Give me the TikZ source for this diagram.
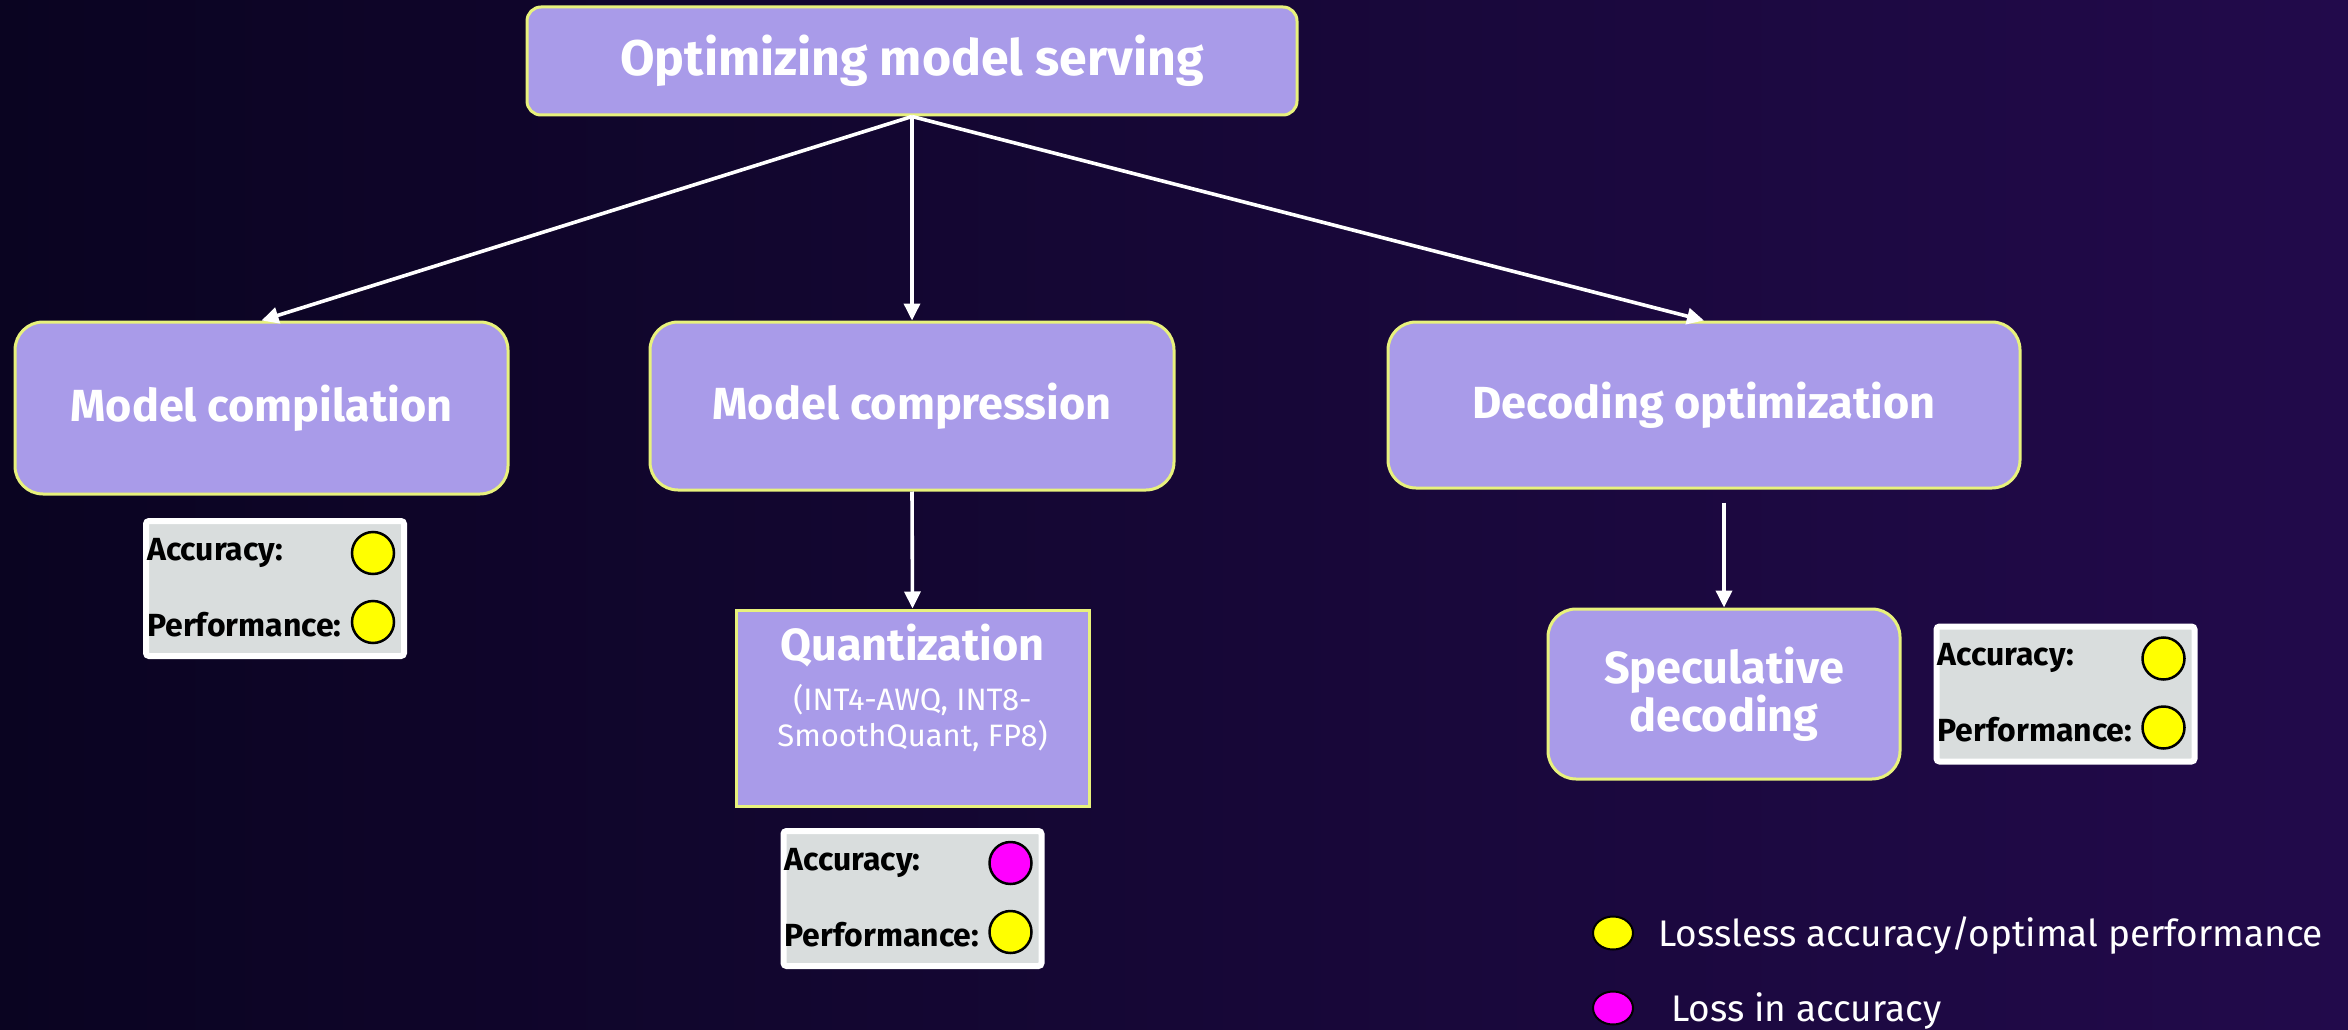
\documentclass[tikz,border=0pt]{standalone}
\usepackage{fontspec}
\setmainfont{Fira Sans}
\usetikzlibrary{arrows.meta,calc,shapes.geometric}

\definecolor{bgleft}{HTML}{0A0421}
\definecolor{bgmid}{HTML}{10062E}
\definecolor{bgright}{HTML}{220A4B}
\definecolor{boxfill}{HTML}{A99BE9}
\definecolor{boxedge}{HTML}{E8F27C}
\definecolor{panelgray}{HTML}{D9DDDD}
\definecolor{dotyellow}{HTML}{FFFF00}
\definecolor{dotmagenta}{HTML}{FF00FF}

% score card: name, centre, colour of the accuracy dot
\newcommand{\scorecard}[3]{%
  \node[panel] (#1) at (#2) {};
  \node[score, anchor=base west] (#1-acc) at ($(#1.north west)+(4,42)$) {Accuracy:};
  \node[score, anchor=base west] (#1-perf) at ($(#1.north west)+(4,118)$) {Performance:};
  \node[dot, fill=#3] (#1-accdot) at ($(#1.north east)+(-34,35)$) {};
  \node[dot, fill=dotyellow] (#1-perfdot) at ($(#1.north east)+(-34,104)$) {};
}

\begin{document}
\begin{tikzpicture}[x=1pt,y=-1pt,
  stage/.style={draw=boxedge, line width=3pt, fill=boxfill, rounded corners=28pt,
    inner sep=0pt, text=white, align=center,
    font=\fontsize{45}{45}\selectfont\bfseries},
  panel/.style={draw=white, line width=6pt, fill=panelgray, rounded corners=3pt,
    inner sep=0pt, minimum width=258pt, minimum height=135pt},
  score/.style={inner sep=0pt, text=black, font=\fontsize{32}{32}\selectfont\bfseries},
  dot/.style={circle, draw=black, line width=2.5pt, inner sep=0pt, minimum size=42pt},
  keydot/.style={ellipse, draw=black, line width=2pt, inner sep=0pt,
    minimum width=40pt, minimum height=33pt},
  keytext/.style={inner sep=0pt, text=white, font=\fontsize{37}{37}\selectfont},
  link/.style={draw=white, line width=3.6pt, -{Triangle[length=17pt,width=16pt]}}
]
\useasboundingbox (0,0) rectangle (2348,1030);
\shade[left color=bgleft, middle color=bgmid, right color=bgright]
  (0,0) rectangle (2348,1030);

% main levels
\node[stage, rounded corners=14pt, minimum width=770pt, minimum height=108pt,
  font=\fontsize{50}{50}\selectfont\bfseries] (top) at (912,61) {Optimizing model serving};
\node[stage, minimum width=493pt, minimum height=172pt] (comp) at (261.5,408) {Model compilation};
\node[stage, minimum width=524pt, minimum height=168pt] (press) at (912,406) {Model compression};
\node[stage, minimum width=632pt, minimum height=166pt] (dec) at (1704,405) {Decoding optimization};

% second level
\node[stage, rounded corners=0pt, minimum width=353pt, minimum height=196pt] (quant) at (912.5,708) {};
\node[inner sep=0pt, text=white, anchor=base, font=\fontsize{45}{45}\selectfont\bfseries]
  (quanttitle) at ($(quant.north)+(0,52)$) {Quantization};
\node[inner sep=0pt, text=white, anchor=base, align=center, font=\fontsize{31}{36}\selectfont]
  (quantsub) at ($(quant.north)+(0,138)$) {(INT4-AWQ, INT8-\\SmoothQuant, FP8)};
\node[stage, minimum width=352pt, minimum height=170pt] (spec) at (1724,694) {Speculative\\decoding};

% connectors
\draw[link] (top.south) -- (comp.north);
\draw[link] (top.south) -- (press.north);
\draw[link] (top.south) -- (dec.north);
\draw[link] (press.south) -- (quant.north);
\draw[link, shorten <=13pt] (spec.north |- dec.south) -- (spec.north);

% score cards
\scorecard{cardcomp}{275,588.5}{dotyellow}
\scorecard{cardquant}{912.5,898.5}{dotmagenta}
\scorecard{cardspec}{2065.5,694}{dotyellow}

% key
\node[keydot, fill=dotyellow] (keyok) at (1613,933) {};
\node[keytext, anchor=base west] (keyoktext) at (1658,946) {Lossless accuracy/optimal performance};
\node[keydot, fill=dotmagenta] (keyloss) at (1613,1008) {};
\node[keytext, anchor=base west] (keylosstext) at (1671,1021) {Loss in accuracy};
\end{tikzpicture}
\end{document}
